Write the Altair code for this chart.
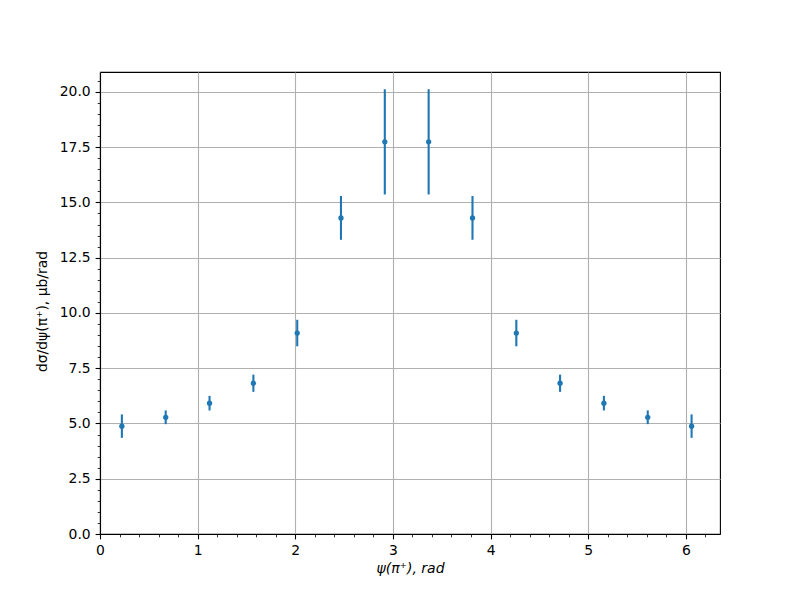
import altair as alt
import pandas as pd

# Data
psi = [0.224, 0.673, 1.122, 1.571, 2.020, 2.468, 2.917, 3.366, 3.815, 4.264, 4.712, 5.161, 5.610, 6.059]
dsig = [4.88, 5.28, 5.92, 6.82, 9.09, 14.30, 17.74, 17.74, 14.30, 9.09, 6.82, 5.92, 5.28, 4.88]
err = [0.53, 0.31, 0.33, 0.39, 0.60, 0.99, 2.38, 2.38, 0.99, 0.60, 0.39, 0.33, 0.31, 0.53]

x_major = [0, 1, 2, 3, 4, 5, 6]
x_minor = [round(i * 0.2, 1) for i in range(32) if i % 5 != 0]
y_major = [0.0, 2.5, 5.0, 7.5, 10.0, 12.5, 15.0, 17.5, 20.0]
y_minor = [round(i * 0.5, 1) for i in range(42) if i % 5 != 0]

X_DOMAIN = [0, 6.35]
Y_DOMAIN = [0, 20.9]
COLOR = "#1f77b4"
FONT = "DejaVu Sans"

df = pd.DataFrame({
    "psi": psi,
    "dsig": dsig,
    "lo": [v - e for v, e in zip(dsig, err)],
    "hi": [v + e for v, e in zip(dsig, err)],
})

xs = alt.Scale(domain=X_DOMAIN, nice=False, zero=False)
ys = alt.Scale(domain=Y_DOMAIN, nice=False, zero=False)

base = alt.Chart(df)

common = dict(
    grid=True, gridColor="#b0b0b0", gridWidth=1.1,
    tickSize=4.9, tickColor="black", tickWidth=1.1,
    domainColor="black", domainWidth=1.1,
    labelFont=FONT, labelFontSize=13.9, labelColor="black", labelPadding=4.9,
    labelFlush=False, labelOverlap=False,
    titleFont=FONT, titleFontWeight="normal", titleColor="black",
)

major = base.mark_point(opacity=0).encode(
    x=alt.X("psi:Q", scale=xs, axis=alt.Axis(
        values=x_major, format="d",
        title="ψ(π⁺), rad", titleFontSize=14, titleFontStyle="italic",
        titlePadding=4, **common)),
    y=alt.Y("dsig:Q", scale=ys, axis=alt.Axis(
        values=y_major, format=".1f",
        title="dσ/dψ(π⁺), μb/rad", titleFontSize=13.9, titleY=239,
        titlePadding=10, **common)),
)

minor = base.mark_point(opacity=0).encode(
    x=alt.X("psi:Q", scale=xs, axis=alt.Axis(
        values=x_minor, orient="bottom", labels=False, grid=False, domain=False,
        tickSize=2.8, tickColor="black", tickWidth=0.8, title=None)),
    y=alt.Y("dsig:Q", scale=ys, axis=alt.Axis(
        values=y_minor, orient="left", labels=False, grid=False, domain=False,
        tickSize=2.8, tickColor="black", tickWidth=0.8, title=None)),
)

bars = base.mark_rule(color=COLOR, strokeWidth=2.1).encode(
    x=alt.X("psi:Q", scale=xs, axis=None),
    y=alt.Y("lo:Q", scale=ys, axis=None),
    y2="hi:Q",
)

pts = base.mark_circle(color=COLOR, size=28, opacity=1).encode(
    x=alt.X("psi:Q", scale=xs, axis=None),
    y=alt.Y("dsig:Q", scale=ys, axis=None),
)

chart = alt.layer(major, minor, bars, pts).resolve_axis(
    x="independent", y="independent"
).properties(
    width=620, height=462,
    autosize="none",
    padding={"left": 92, "top": 64, "right": 72, "bottom": 58},
).configure_view(stroke="black", strokeWidth=1.1)

chart.save("out.html", embed_options={"renderer": "svg", "actions": False})
